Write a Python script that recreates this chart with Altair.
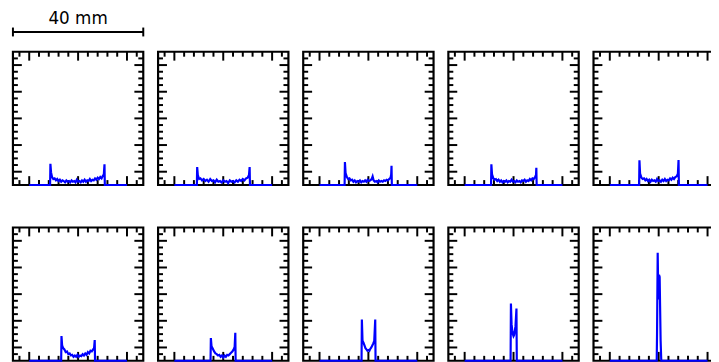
import altair as alt
import pandas as pd

# tick positions (mm on x, arbitrary intensity units on y)
X_MAJOR = [-15, 0, 15]
X_MINOR = [-18, -12, -9, -6, -3, 3, 6, 9, 12, 18]
Y_MAJOR = [2, 6, 10, 14, 18]
Y_MINOR = [1, 3, 4, 5, 7, 8, 9, 11, 12, 13, 15, 16, 17, 19]
SCALE_BAR = [-20, 20]
SCALE_LABEL = "40 mm"

# profiles, row 1
P1_X = [-15, -8.6, -8.5, -8.3, -8.0, -7.6, -7.2, -6.8, -6.4, -6.0, -5.6, -5.2, -4.8, -4.4, -4.0, -3.6,
        -3.2, -2.8, -2.4, -2.0, -1.6, -1.2, -0.8, -0.4, 0.0, 0.4, 0.8, 1.2, 1.6, 2.0, 2.4, 2.8, 3.2,
        3.6, 4.0, 4.4, 4.8, 5.2, 5.6, 6.0, 6.4, 6.8, 7.2, 7.6, 7.9, 8.1, 8.2, 15]
P1_Y = [0, 0, 3.2, 1.9, 1.2, 0.9, 1.0, 0.7, 0.9, 0.6, 0.8, 0.5, 0.7, 0.6, 0.4, 0.7, 0.5, 0.6, 0.4, 0.7,
        0.5, 0.6, 0.4, 0.8, 0.5, 0.6, 0.4, 0.7, 0.5, 0.8, 0.5, 0.7, 0.6, 0.9, 0.6, 0.8, 0.7, 1.0, 0.8,
        1.1, 0.9, 1.2, 1.0, 1.4, 1.6, 3.1, 0, 0]

P2_X = [-15, -8.1, -8.0, -7.8, -7.4, -7.0, -6.5, -6.0, -5.5, -5.0, -4.5, -4.0, -3.5, -3.0, -2.5, -2.0,
        -1.5, -1.0, -0.5, 0.0, 0.5, 1.0, 1.5, 2.0, 2.5, 3.0, 3.5, 4.0, 4.5, 5.0, 5.5, 6.0, 6.5, 7.0,
        7.5, 7.9, 8.1, 8.2, 15]
P2_Y = [0, 0, 2.7, 1.5, 0.9, 1.0, 0.7, 0.9, 0.6, 0.8, 0.5, 0.9, 0.6, 0.7, 0.4, 0.8, 0.5, 0.6, 0.4, 0.7,
        0.5, 0.6, 0.3, 0.7, 0.5, 0.6, 0.4, 0.7, 0.5, 0.8, 0.6, 0.9, 0.7, 1.0, 1.1, 1.5, 2.7, 0, 0]

P3_X = [-15, -7.3, -7.2, -7.0, -6.6, -6.2, -5.8, -5.4, -5.0, -4.6, -4.2, -3.8, -3.4, -3.0, -2.6, -2.2,
        -1.8, -1.4, -1.0, -0.6, -0.2, 0.2, 0.6, 1.0, 1.3, 1.6, 2.0, 2.4, 2.8, 3.2, 3.6, 4.0, 4.4, 4.8,
        5.2, 5.6, 6.0, 6.4, 6.8, 7.0, 7.1, 7.2, 15]
P3_Y = [0, 0, 3.45, 1.8, 1.2, 0.9, 1.0, 0.7, 0.8, 0.5, 0.7, 0.4, 0.6, 0.5, 0.7, 0.4, 0.6, 0.5, 0.7, 0.5,
        0.8, 0.6, 0.7, 0.9, 1.3, 0.7, 0.5, 0.6, 0.4, 0.7, 0.5, 0.6, 0.5, 0.7, 0.6, 0.8, 0.7, 0.9, 1.1,
        1.6, 2.9, 0, 0]

P4_X = [-15, -6.9, -6.8, -6.6, -6.2, -5.8, -5.4, -5.0, -4.6, -4.2, -3.8, -3.4, -3.0, -2.6, -2.2, -1.8,
        -1.4, -1.0, -0.6, -0.2, 0.2, 0.6, 1.0, 1.4, 1.8, 2.2, 2.6, 3.0, 3.4, 3.8, 4.2, 4.6, 5.0, 5.4,
        5.8, 6.2, 6.6, 6.9, 7.0, 7.1, 15]
P4_Y = [0, 0, 3.1, 1.6, 1.0, 0.8, 0.9, 0.6, 0.8, 0.5, 0.7, 0.4, 0.6, 0.5, 0.7, 0.4, 0.6, 0.5, 0.8, 0.5,
        0.6, 0.4, 0.7, 0.5, 0.6, 0.4, 0.7, 0.6, 0.8, 0.5, 0.7, 0.6, 0.9, 0.7, 1.0, 0.9, 1.2, 1.5, 2.6,
        0, 0]

P5_X = [-15, -6.0, -5.9, -5.7, -5.3, -4.9, -4.5, -4.1, -3.7, -3.3, -2.9, -2.5, -2.1, -1.7, -1.3, -0.9,
        -0.5, -0.1, 0.3, 0.7, 1.1, 1.5, 1.9, 2.3, 2.7, 3.1, 3.5, 3.9, 4.3, 4.7, 5.1, 5.5, 5.9, 6.1, 6.2, 15]
P5_Y = [0, 0, 3.7, 1.7, 1.1, 0.9, 1.0, 0.7, 0.9, 0.6, 0.8, 0.5, 0.8, 0.6, 0.7, 0.5, 0.9, 0.6, 0.7, 0.5,
        0.8, 0.6, 0.9, 0.6, 0.8, 0.7, 1.0, 0.8, 1.1, 0.9, 1.2, 1.3, 1.7, 3.75, 0, 0]

# profiles, row 2
P6_X = [-15, -5.2, -5.1, -4.9, -4.6, -4.2, -3.8, -3.4, -3.0, -2.6, -2.2, -1.8, -1.4, -1.0, -0.6, -0.2,
        0.2, 0.6, 1.0, 1.4, 1.8, 2.2, 2.6, 3.0, 3.4, 3.8, 4.2, 4.6, 4.9, 5.1, 5.2, 15]
P6_Y = [0, 0, 3.7, 2.3, 1.9, 1.7, 1.3, 1.4, 1.0, 1.1, 0.8, 0.9, 0.6, 0.8, 0.6, 0.9, 0.6, 0.8, 0.7, 1.0,
        0.8, 1.1, 0.9, 1.3, 1.1, 1.5, 1.4, 1.7, 1.9, 3.1, 0, 0]

P7_X = [-15, -3.9, -3.8, -3.6, -3.2, -2.8, -2.4, -2.0, -1.6, -1.2, -0.8, -0.4, 0.0, 0.4, 0.8, 1.2, 1.6,
        2.0, 2.4, 2.8, 3.2, 3.5, 3.7, 3.8, 15]
P7_Y = [0, 0, 3.4, 2.2, 1.8, 1.4, 1.1, 1.0, 0.8, 0.9, 0.6, 0.8, 0.5, 0.8, 0.6, 0.9, 0.8, 1.0, 1.2, 1.4,
        1.7, 2.1, 4.2, 0, 0]

P8_X = [-15, -2.1, -2.0, -1.8, -1.5, -1.2, -0.9, -0.6, -0.3, 0.0, 0.3, 0.6, 0.9, 1.2, 1.5, 1.8, 2.1, 2.2, 15]
P8_Y = [0, 0, 6.2, 3.0, 2.7, 2.3, 1.9, 1.7, 1.5, 1.6, 1.5, 1.8, 2.0, 2.3, 2.6, 3.0, 6.2, 0, 0]

P9_X = [-15, -0.9, -0.8, -0.6, -0.4, -0.2, 0.0, 0.2, 0.4, 0.6, 0.9, 1.0, 15]
P9_Y = [0, 0, 8.6, 5.5, 4.6, 4.0, 3.7, 3.9, 4.5, 5.2, 7.85, 0, 0]

P10_X = [-15, -0.6, -0.5, -0.3, -0.1, 0.1, 0.3, 0.6, 0.8, 15]
P10_Y = [0, 0, 4.0, 16.2, 9.2, 12.9, 12.6, 3.0, 0, 0]

ROW1 = [(P1_X, P1_Y), (P2_X, P2_Y), (P3_X, P3_Y), (P4_X, P4_Y), (P5_X, P5_Y)]
ROW2 = [(P6_X, P6_Y), (P7_X, P7_Y), (P8_X, P8_Y), (P9_X, P9_Y), (P10_X, P10_Y)]

W, H = 132, 135
MAJ, MIN = 9, 5
XS = alt.Scale(domain=[-20, 20], nice=False, zero=False)
YS = alt.Scale(domain=[0, 20], nice=False, zero=False)


def tick_layers():
    layers = []
    for vals, L in ((X_MAJOR, MAJ), (X_MINOR, MIN)):
        base = alt.Chart(pd.DataFrame({"t": vals})).mark_rule(color="black", strokeWidth=2)
        xe = alt.X("t:Q", scale=XS, axis=None)
        layers.append(base.encode(x=xe, y=alt.value(0), y2=alt.value(L)))
        layers.append(base.encode(x=xe, y=alt.value(H), y2=alt.value(H - L)))
    for vals, L in ((Y_MAJOR, MAJ), (Y_MINOR, MIN)):
        base = alt.Chart(pd.DataFrame({"t": vals})).mark_rule(color="black", strokeWidth=2)
        ye = alt.Y("t:Q", scale=YS, axis=None)
        layers.append(base.encode(y=ye, x=alt.value(0), x2=alt.value(L)))
        layers.append(base.encode(y=ye, x=alt.value(W), x2=alt.value(W - L)))
    return layers


def panel(xv, yv, with_bar=False):
    frame = alt.Chart(pd.DataFrame({"a": [0]})).mark_rect(
        filled=False, stroke="black", strokeWidth=2.2
    ).encode(x=alt.value(0), x2=alt.value(W), y=alt.value(0), y2=alt.value(H))
    df = pd.DataFrame({"x": xv, "y": yv, "i": list(range(len(xv)))})
    line = alt.Chart(df).mark_line(color="#0000ff", strokeWidth=2.2).encode(
        x=alt.X("x:Q", scale=XS, axis=None),
        y=alt.Y("y:Q", scale=YS, axis=None),
        order="i:Q",
    )
    layers = [frame] + tick_layers() + [line]
    if with_bar:
        bar_df = pd.DataFrame({"a": [SCALE_BAR[0]], "b": [SCALE_BAR[1]]})
        bar = alt.Chart(bar_df).mark_rule(color="black", strokeWidth=2).encode(
            x=alt.X("a:Q", scale=XS, axis=None), x2="b:Q", y=alt.value(-20)
        )
        caps = alt.Chart(pd.DataFrame({"a": SCALE_BAR})).mark_rule(color="black", strokeWidth=2).encode(
            x=alt.X("a:Q", scale=XS, axis=None), y=alt.value(-24.5), y2=alt.value(-15.5)
        )
        lab_df = pd.DataFrame({"a": [sum(SCALE_BAR) / 2], "t": [SCALE_LABEL]})
        label = alt.Chart(lab_df).mark_text(
            font="DejaVu Sans", fontSize=17, baseline="alphabetic", align="center", color="black"
        ).encode(x=alt.X("a:Q", scale=XS, axis=None), y=alt.value(-28), text="t:N")
        layers += [bar, caps, label]
    return alt.layer(*layers).properties(width=W, height=H)


row1 = alt.hconcat(*[panel(x, y, i == 0) for i, (x, y) in enumerate(ROW1)], spacing=11)
row2 = alt.hconcat(*[panel(x, y) for x, y in ROW2], spacing=11)

chart = alt.vconcat(row1, row2, spacing=36).properties(
    padding={"left": 3, "top": 0, "right": -15, "bottom": 0}
).configure_view(stroke=None)

chart.save("out.html", embed_options={"renderer": "svg", "actions": False})
